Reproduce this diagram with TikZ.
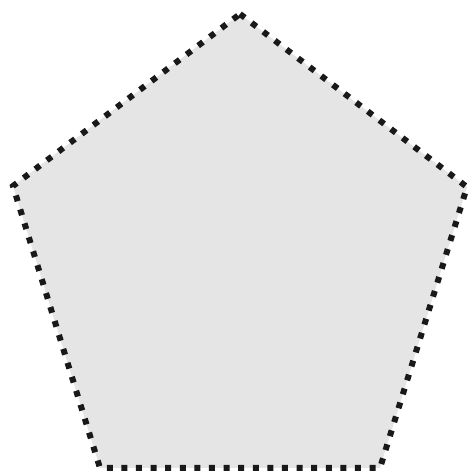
\documentclass[tikz,border=0pt]{standalone}
\begin{document}
\begin{tikzpicture}[x=1pt,y=1pt,
  pentaline/.style={draw=black!90, fill=gray!20, line width=6pt, dash pattern=on 6pt off 8.6pt, line join=miter}]
\useasboundingbox (0,0) rectangle (473,475);
\coordinate (T) at (240,461);
\coordinate (R) at (467,288);
\coordinate (BR) at (380,7);
\coordinate (BL) at (100,7);
\coordinate (L) at (13,289);
\path[pentaline] (T) -- (R) -- (BR) -- (BL) -- (L) -- cycle;
\end{tikzpicture}
\end{document}
